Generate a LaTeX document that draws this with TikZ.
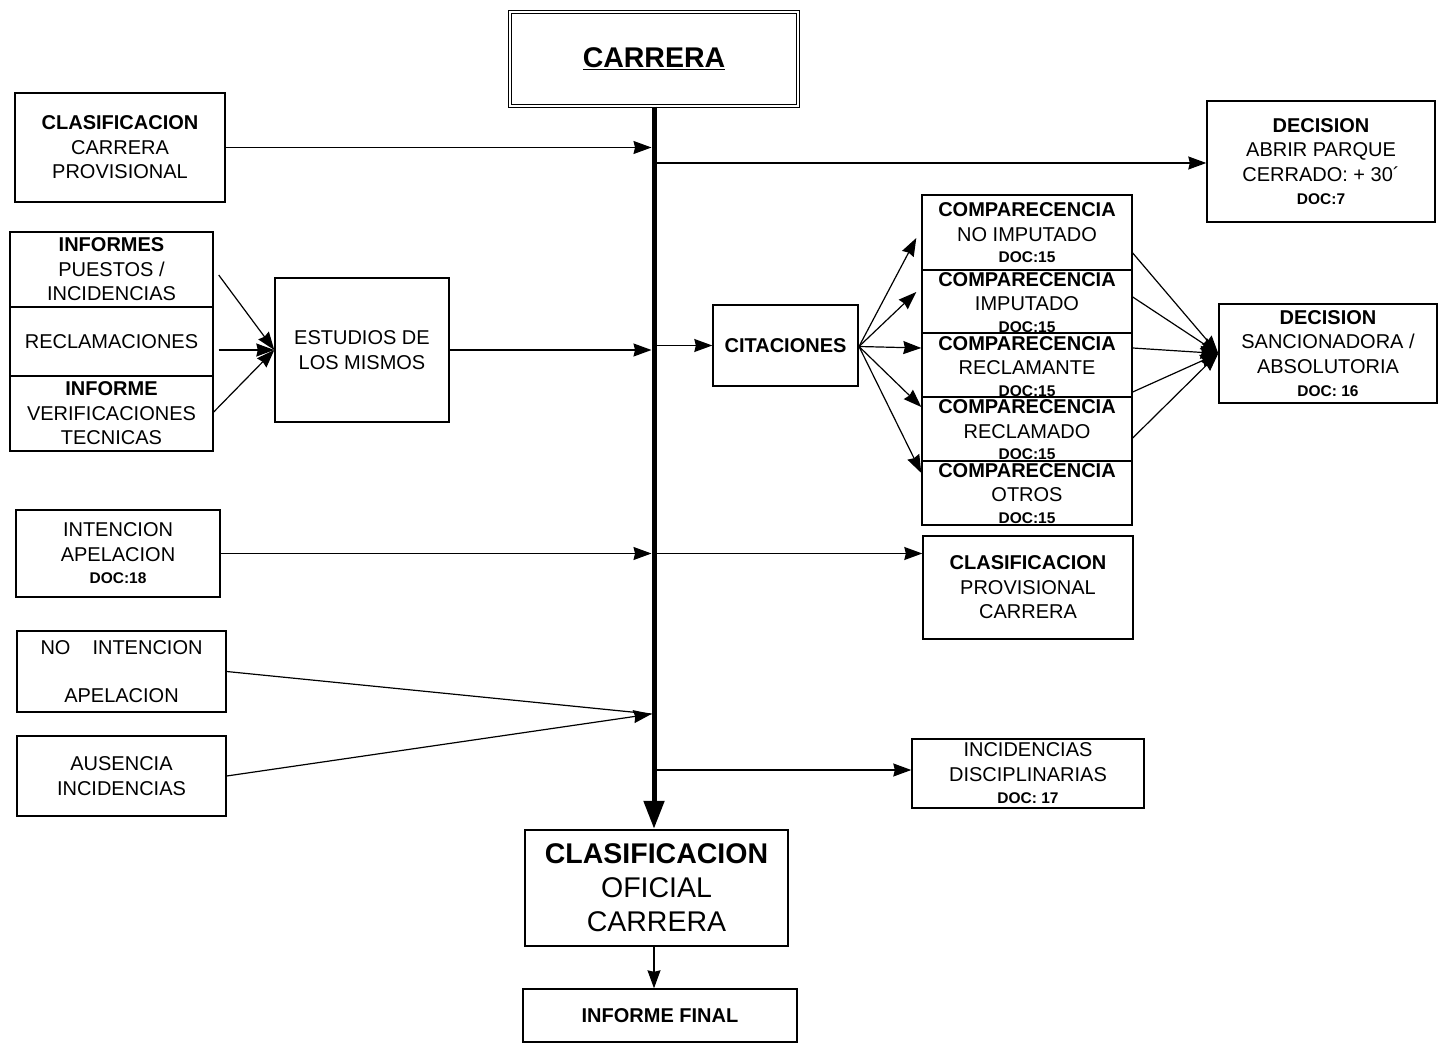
\documentclass[tikz,border=0pt]{standalone}
\usepackage{fontspec}
\setmainfont{Liberation Sans}
\usetikzlibrary{arrows.meta,calc}
\newcommand\myNormal{\fontsize{20}{24.5}\selectfont}
\newcommand\myBig{\fontsize{28.5}{34}\selectfont}
\newcommand\myDoc{\fontsize{15.5}{20}\selectfont\bfseries}
\begin{document}
\begin{tikzpicture}[x=1pt,y=-1pt,
  box/.style={draw, line width=1.4pt, inner sep=0pt, align=center, font=\myNormal},
  txt/.style={inner sep=0pt, align=center, font=\myNormal},
  arr/.style={line width=1.2pt, -{Stealth[length=18pt,width=13pt,inset=1.5pt]}},
  ln/.style={line width=1.2pt}]
\useasboundingbox[fill=white] (0,0) rectangle (1438,1048);
\coordinate (sp) at (654,0);

% boxes
\node[box, double, line width=1.1pt, double distance=2.6pt, minimum width=288, minimum height=94] (car) at (654,59)
  {\myBig\bfseries\underline{CARRERA}};
\node[box, minimum width=210, minimum height=109] (cpl) at (120,147.5)
  {\textbf{CLASIFICACION}\\CARRERA\\PROVISIONAL};
\node[box, minimum width=228, minimum height=121] (dec1) at (1321,161.5)
  {\textbf{DECISION}\\ABRIR PARQUE\\CERRADO: + 30´\\[-1pt]{\myDoc DOC:7}};
\node[box, minimum width=203, minimum height=75] (inf1) at (111.5,269.5)
  {\textbf{INFORMES}\\PUESTOS /\\INCIDENCIAS};
\node[box, minimum width=203, minimum height=69] (inf2) at (111.5,341.5)
  {RECLAMACIONES};
\node[box, minimum width=203, minimum height=75] (inf3) at (111.5,413.5)
  {\textbf{INFORME}\\VERIFICACIONES\\TECNICAS};
\node[box, minimum width=174, minimum height=144] (est) at (362,350)
  {ESTUDIOS DE\\LOS MISMOS};
\node[box, minimum width=145, minimum height=81] (cit) at (785.5,345.5)
  {\textbf{CITACIONES}};

\node[box, minimum width=210, minimum height=75] (c1) at (1027,232.5) {};
\node[box, minimum width=210, minimum height=63] (c2) at (1027,301.5) {};
\node[box, minimum width=210, minimum height=64] (c3) at (1027,365) {};
\node[box, minimum width=210, minimum height=64] (c4) at (1027,429) {};
\node[box, minimum width=210, minimum height=64] (c5) at (1027,493) {};
\node[txt] (c1t) at (1027,233) {\textbf{COMPARECENCIA}\\NO IMPUTADO\\[-3pt]{\myDoc DOC:15}};
\node[txt] (c2t) at (1027,302.5) {\textbf{COMPARECENCIA}\\IMPUTADO\\[-3pt]{\myDoc DOC:15}};
\node[txt] (c3t) at (1027,366.5) {\textbf{COMPARECENCIA}\\RECLAMANTE\\[-3pt]{\myDoc DOC:15}};
\node[txt] (c4t) at (1027,430) {\textbf{COMPARECENCIA}\\RECLAMADO\\[-3pt]{\myDoc DOC:15}};
\node[txt] (c5t) at (1027,493.5) {\textbf{COMPARECENCIA}\\OTROS\\[-3pt]{\myDoc DOC:15}};

\node[box, minimum width=218, minimum height=99] (dec2) at (1328,353.5)
  {\textbf{DECISION}\\SANCIONADORA /\\ABSOLUTORIA\\[-1pt]{\myDoc DOC: 16}};
\node[box, minimum width=204, minimum height=87] (ia) at (118,553.5)
  {INTENCION\\APELACION\\[-2pt]{\myDoc DOC:18}};
\node[box, minimum width=210, minimum height=103] (cpc) at (1028,587.5)
  {\textbf{CLASIFICACION}\\PROVISIONAL\\CARRERA};
\node[box, minimum width=209, minimum height=81] (nia) at (121.5,671.5)
  {NO\hspace{22pt}INTENCION\\[24pt]APELACION};
\node[box, minimum width=209, minimum height=80] (ai) at (121.5,776)
  {AUSENCIA\\INCIDENCIAS};
\node[box, minimum width=232, minimum height=69] (idis) at (1028,773.5)
  {INCIDENCIAS\\DISCIPLINARIAS\\[-2pt]{\myDoc DOC: 17}};
\node[box, line width=2.4pt, minimum width=263, minimum height=116, font=\myBig] (ofi) at (656.5,888)
  {\textbf{CLASIFICACION}\\OFICIAL\\CARRERA};
\node[box, minimum width=274, minimum height=53] (fin) at (660,1015.5)
  {\textbf{INFORME FINAL}};

% spine
\draw[line width=5pt, -{Triangle[length=28pt,width=20pt]}] (car.south) -- (sp |- ofi.north);

% connectors into / out of spine
\coordinate (j2) at (654,163);
\coordinate (jn) at (651.5,714);
\coordinate (j7) at (654,770);
\draw[arr] (cpl.east) -- ($(sp |- cpl.east)+(-2.5,0)$);
\draw[arr] (j2) -- (dec1.west |- j2);
\draw[arr] (est.east) -- ($(sp |- est.east)+(-2.5,0)$);
\draw[arr] (sp |- cit.west) -- (cit.west);
\draw[arr] (ia.east) -- ($(sp |- ia.east)+(-2.5,0)$);
\draw[arr] (sp |- ia.east) -- (cpc.west |- ia.east);
\draw[ln] (nia.east) -- (jn);
\draw[arr] (ai.east) -- (jn);
\draw[arr] (j7) -- (idis.west |- j7);
\draw[arr] (sp |- ofi.south) -- (sp |- fin.north);

% left group to estudios
\draw[arr] ($(inf1.east)+(5,5.5)$) -- (est.west);
\draw[arr] ($(inf2.east)+(5,8.5)$) -- (est.west);
\draw[arr] ($(inf3.east)+(0,-1.5)$) -- (est.west);

% citaciones fan-out
\coordinate (co) at (859,346.5);
\draw[arr] (co) -- ($(c1.west)+(-5,5.5)$);
\draw[arr] (co) -- ($(c2.west)+(-5,-9.5)$);
\draw[arr] (co) -- ($(c3.west)+(0,-17)$);
\draw[arr] (co) -- ($(c4.west)+(0,-22)$);
\draw[arr] (co) -- ($(c5.west)+(0,-20)$);

% comparecencias to decision
\draw[arr] ($(c1.east)+(0,20.5)$) -- (dec2.west);
\draw[arr] ($(c2.east)+(0,-4.5)$) -- (dec2.west);
\draw[arr] ($(c3.east)+(0,-17)$) -- (dec2.west);
\draw[arr] ($(c4.east)+(0,-37)$) -- (dec2.west);
\draw[arr] ($(c5.east)+(0,-55)$) -- (dec2.west);
\end{tikzpicture}
\end{document}
